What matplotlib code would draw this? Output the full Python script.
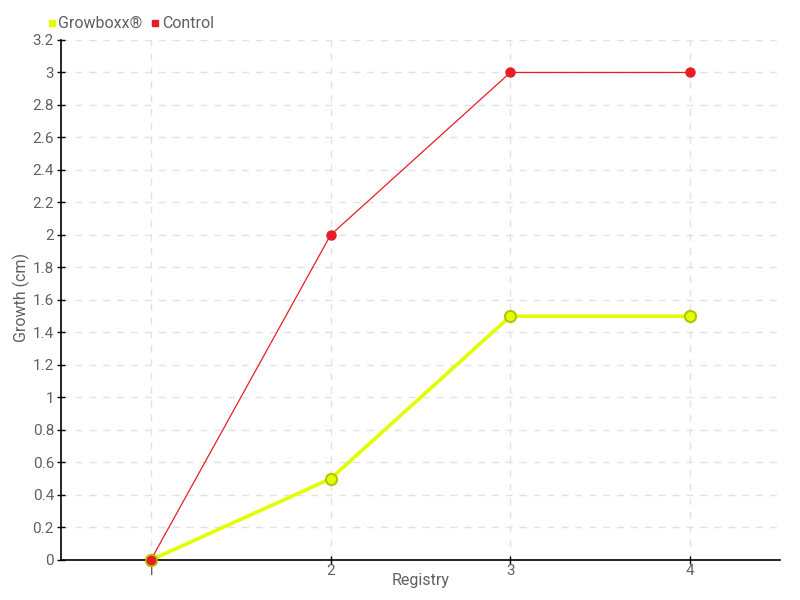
import matplotlib as mpl
mpl.use("Agg")
from matplotlib import pyplot as plt
from matplotlib.lines import Line2D

plt.rcParams['font.family'] = ['Roboto', 'DejaVu Sans']

registry = [1, 2, 3, 4]
growboxx = [0, 0.5, 1.5, 1.5]
control = [0, 2, 3, 3]
yticks = [0, 0.2, 0.4, 0.6, 0.8, 1, 1.2, 1.4, 1.6, 1.8, 2, 2.2, 2.4, 2.6, 2.8, 3, 3.2]
ylabels = ["0", "0.2", "0.4", "0.6", "0.8", "1", "1.2", "1.4", "1.6", "1.8",
           "2", "2.2", "2.4", "2.6", "2.8", "3", "3.2"]

txt = "#606060"
yellow = "#e2ff00"
red = "#e81c26"

fig = plt.figure(figsize=(8, 6), dpi=100)
ax = fig.add_axes([0.07625, 0.0667, 0.89875, 0.8667])

ax.plot(registry, control, color=red, lw=0.9, marker="o", ms=6.5,
        mfc=red, mec=red, zorder=3, clip_on=False)
ax.plot(registry, growboxx, color=yellow, lw=2.6, marker="o", ms=8,
        mfc=yellow, mec="#b5c400", mew=1.5, zorder=2, clip_on=False)
# red marker at the origin sits on top
ax.plot(registry[:1], control[:1], ls="none", marker="o", ms=8,
        mfc=red, mec="#b5c400", mew=1, zorder=4, clip_on=False)

ax.set_xlim(0.5, 4.5)
ax.set_ylim(0, 3.2)
ax.set_xticks(registry)
ax.set_yticks(yticks)
ax.set_yticklabels(ylabels)
ax.grid(True, color="#e2e2e2", ls=(0, (5, 5)), lw=1)
ax.set_axisbelow(True)
for s in ["top", "right"]:
    ax.spines[s].set_visible(False)
for s in ["left", "bottom"]:
    ax.spines[s].set_linewidth(1.2)
ax.tick_params(direction="inout", length=6, width=1, labelsize=11,
               labelcolor=txt)
ax.tick_params(axis="x", pad=0)
ax.tick_params(axis="y", pad=2)
ax.set_xlabel("Registry", color=txt, fontsize=11.5)
ax.set_ylabel("Growth (cm)", color=txt, fontsize=11.5)
ax.xaxis.set_label_coords(0.5, -0.0385, transform=ax.transAxes)
ax.xaxis.label.set_va("center")
ax.yaxis.set_label_coords(-0.055, 0.504, transform=ax.transAxes)
ax.yaxis.label.set_va("center")

handles = [Line2D([], [], ls="none", marker="s", ms=5, mfc=yellow, mec=yellow),
           Line2D([], [], ls="none", marker="s", ms=5, mfc=red, mec=red)]
leg = fig.legend(handles, ["Growboxx\u00ae", "Control"], loc="upper left",
                 bbox_to_anchor=(0.043, 0.997), ncol=2, frameon=False,
                 fontsize=11.5, handlelength=0.4, handletextpad=0.2,
                 columnspacing=0.6)
for t in leg.get_texts():
    t.set_color(txt)

fig.savefig("out.png", dpi=100)
